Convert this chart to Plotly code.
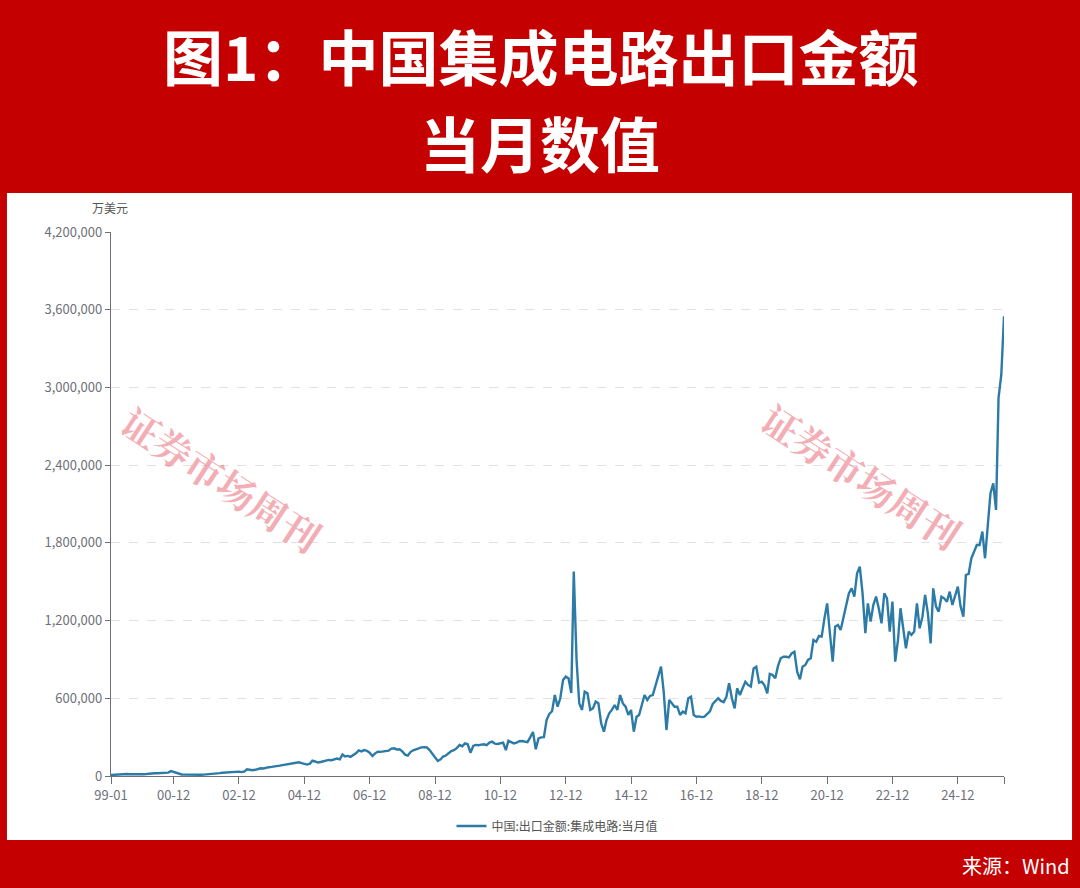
import pandas as pd
import plotly.graph_objects as go

# ---------------- data (万美元, monthly) ----------------
START_MONTH = "1999-01-01"
v1999 = [8000, 10000, 12000, 14000, 15000, 16000, 15000, 14000, 13000, 12000, 12000, 13000]
v2000 = [14000, 15000, 18000, 20000, 21000, 21000, 22000, 23000, 24000, 26000, 38000, 30000]
v2001 = [22000, 15000, 12000, 11000, 10000, 9000, 9000, 8000, 9000, 10000, 11000, 12000]
v2002 = [13000, 14000, 17000, 20000, 22000, 25000, 27000, 28000, 30000, 31000, 32000, 34000]
v2003 = [30000, 36000, 52000, 46000, 44000, 48000, 55000, 60000, 58000, 64000, 68000, 70000]
v2004 = [72000, 76000, 80000, 84000, 88000, 92000, 96000, 100000, 103000, 106000, 100000, 96000]
v2005 = [88000, 95000, 118000, 112000, 104000, 108000, 112000, 116000, 124000, 122000, 130000, 135000]
v2006 = [128000, 165000, 150000, 155000, 148000, 162000, 175000, 198000, 190000, 200000, 195000, 180000]
v2007 = [155000, 175000, 188000, 186000, 190000, 194000, 196000, 212000, 214000, 205000, 206000, 190000]
v2008 = [165000, 158000, 185000, 198000, 205000, 215000, 221000, 222000, 220000, 200000, 170000, 140000]
v2009 = [116000, 128000, 150000, 158000, 172000, 193000, 200000, 215000, 239000, 230000, 252000, 245000]
v2010 = [180000, 232000, 240000, 238000, 242000, 245000, 239000, 258000, 265000, 250000, 247000, 255000]
v2011 = [258000, 200000, 272000, 262000, 252000, 258000, 268000, 270000, 265000, 262000, 300000, 340000]
v2012 = [206000, 290000, 298000, 300000, 432000, 480000, 500000, 625000, 535000, 600000, 741000, 767000]
v2013 = [754000, 640000, 1578000, 896000, 561000, 510000, 651000, 638000, 510000, 522000, 574000, 561000]
v2014 = [407000, 342000, 430000, 484000, 510000, 548000, 510000, 625000, 560000, 535000, 471000, 510000]
v2015 = [342000, 458000, 471000, 540000, 625000, 587000, 618000, 625000, 700000, 754000, 844000, 651000]
v2016 = [355000, 587000, 561000, 535000, 535000, 471000, 497000, 484000, 600000, 612000, 471000, 458000]
v2017 = [460000, 455000, 458000, 480000, 500000, 556000, 575000, 600000, 580000, 570000, 612000, 716000]
v2018 = [600000, 522000, 677000, 625000, 677000, 728000, 703000, 690000, 831000, 844000, 721000, 728000]
v2019 = [700000, 638000, 788000, 780000, 754000, 850000, 909000, 921000, 921000, 916000, 947000, 960000]
v2020 = [806000, 746000, 844000, 857000, 896000, 909000, 1050000, 1037000, 1081000, 1076000, 1217000, 1333000]
v2021 = [1102000, 883000, 1153000, 1166000, 1127000, 1220000, 1295000, 1410000, 1449000, 1385000, 1565000, 1616000]
v2022 = [1410000, 1102000, 1333000, 1192000, 1320000, 1385000, 1295000, 1179000, 1410000, 1372000, 1115000, 1346000]
v2023 = [883000, 1050000, 1295000, 1127000, 986000, 1115000, 1089000, 1115000, 1333000, 1140000, 1230000, 1398000]
v2024 = [1256000, 1024000, 1449000, 1308000, 1269000, 1385000, 1372000, 1346000, 1423000, 1320000, 1385000, 1462000]
v2025 = [1308000, 1230000, 1552000, 1560000, 1681000, 1732000, 1784000, 1784000, 1887000, 1681000, 1977000, 2183000]
v2026 = [2260000, 2054000, 2920000, 3100000, 3550000]

values = (v1999 + v2000 + v2001 + v2002 + v2003 + v2004 + v2005 + v2006 + v2007
          + v2008 + v2009 + v2010 + v2011 + v2012 + v2013 + v2014 + v2015 + v2016
          + v2017 + v2018 + v2019 + v2020 + v2021 + v2022 + v2023 + v2024 + v2025 + v2026)
months = pd.date_range(START_MONTH, periods=len(values), freq="MS")

SERIES_NAME = "中国:出口金额:集成电路:当月值"
X_TICK_DATES = ["1999-01-01", "2000-12-01", "2002-12-01", "2004-12-01", "2006-12-01",
                "2008-12-01", "2010-12-01", "2012-12-01", "2014-12-01", "2016-12-01",
                "2018-12-01", "2020-12-01", "2022-12-01", "2024-12-01", "2026-05-01"]
X_TICK_LABELS = ["99-01", "00-12", "02-12", "04-12", "06-12", "08-12", "10-12", "12-12",
                 "14-12", "16-12", "18-12", "20-12", "22-12", "24-12", ""]
Y_TICKS = [0, 600000, 1200000, 1800000, 2400000, 3000000, 3600000, 4200000]
TITLE_LINE1 = "图1：中国集成电路出口金额"
TITLE_LINE2 = "当月数值"
UNIT_LABEL = "万美元"
SOURCE = "来源：Wind"
WATERMARK = "证券市场周刊"

RED = "#C50000"
LINE = "#2C7BA7"
AXIS = "#6E7079"
FONT = "Noto Sans CJK SC"

fig = go.Figure()
fig.add_trace(go.Scatter(x=months, y=values, mode="lines", name=SERIES_NAME,
                         line=dict(color=LINE, width=2.4), showlegend=True))

# white panel
fig.add_shape(type="rect", xref="paper", yref="paper",
              x0=-0.1165, x1=1.0762, y0=-0.1177, y1=1.0717,
              fillcolor="white", line=dict(width=0), layer="below")

fig.update_layout(
    width=1080, height=888,
    paper_bgcolor=RED, plot_bgcolor="white",
    margin=dict(l=111, r=76, t=232, b=112),
    font=dict(family=FONT, color=AXIS, size=13),
    showlegend=True,
    legend=dict(orientation="h", x=0.5, xanchor="center", y=-0.092, yanchor="middle",
                font=dict(size=12, color="#555555"), bgcolor="rgba(0,0,0,0)"),
    xaxis=dict(type="date", range=[months[0], months[-1]],
               tickvals=X_TICK_DATES, ticktext=X_TICK_LABELS,
               showgrid=False, showline=True, linecolor=AXIS, linewidth=1.3,
               ticks="outside", ticklen=7, tickcolor=AXIS, tickwidth=1.3,
               tickfont=dict(size=13, color=AXIS), zeroline=False),
    yaxis=dict(range=[0, 4200000], tickvals=Y_TICKS,
               ticktext=[f"{v:,}" for v in Y_TICKS],
               showgrid=True, gridcolor="#E0E0E6", griddash="dash", gridwidth=1,
               showline=True, linecolor=AXIS, linewidth=1.3,
               ticks="outside", ticklen=5, tickcolor=AXIS, tickwidth=1.3,
               tickfont=dict(size=13, color=AXIS), zeroline=False),
)

PL, PT, PW, PH = 111, 232, 893, 544


def px(xp, yp):
    return (xp - PL) / PW, (PT + PH - yp) / PH


annots = []
for text, yp in [(TITLE_LINE1, 55), (TITLE_LINE2, 142)]:
    x, y = px(540, yp)
    annots.append(dict(text=f"<b>{text}</b>", x=x, y=y,
                       xref="paper", yref="paper", showarrow=False,
                       xanchor="center", yanchor="middle",
                       font=dict(family=FONT, size=60, color="white")))
x, y = px(110, 207)
annots.append(dict(text=UNIT_LABEL, x=x, y=y, xref="paper", yref="paper", showarrow=False,
                   xanchor="center", yanchor="middle", font=dict(size=12, color="#555555")))
x, y = px(1072, 865)
annots.append(dict(text=SOURCE, x=x, y=y, xref="paper", yref="paper", showarrow=False,
                   xanchor="right", yanchor="middle", font=dict(size=20, color="white")))
for (xp, yp) in [(222, 478), (862, 475)]:
    x, y = px(xp, yp)
    annots.append(dict(text=f"<b>{WATERMARK}</b>", x=x, y=y, xref="paper", yref="paper",
                       showarrow=False, textangle=33, xanchor="center", yanchor="middle",
                       font=dict(family="Noto Serif CJK SC, " + FONT, size=38,
                                 color="rgba(236,120,132,0.6)")))
fig.update_layout(annotations=annots)

fig.write_html("out.html")
